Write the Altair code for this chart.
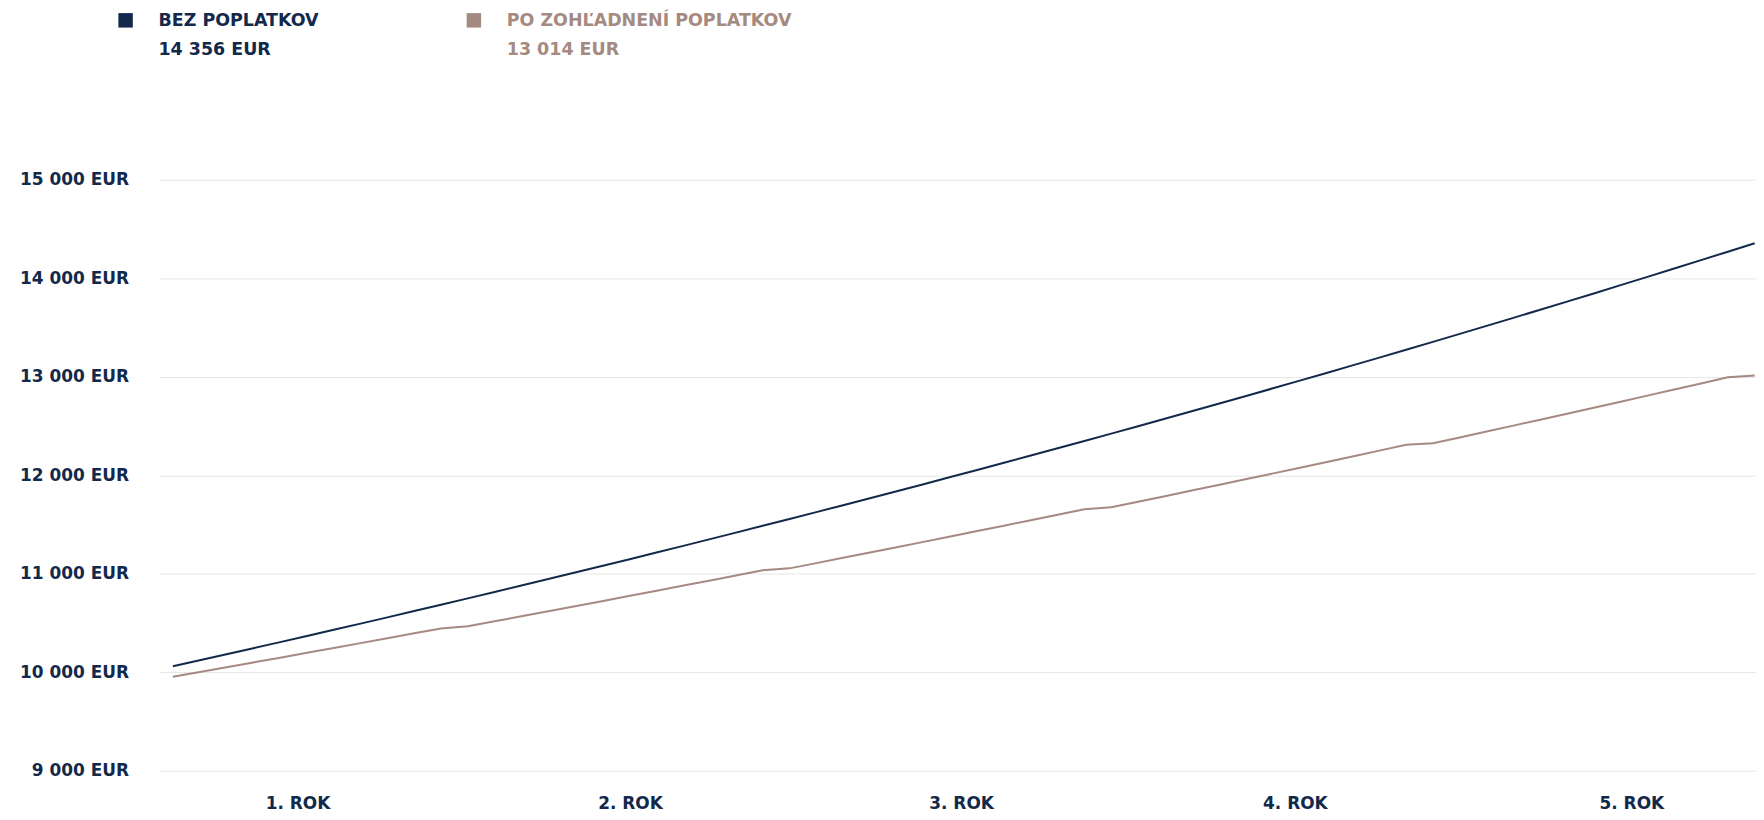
import altair as alt
import pandas as pd

# ---- data ----
months = list(range(1, 61))
bez_poplatkov = [
    10060.4, 10121.2, 10182.4, 10244.0, 10305.9, 10368.2, 10430.9, 10493.9, 10557.4, 10621.2, 10685.4, 10750.0,
    10815.0, 10880.3, 10946.1, 11012.3, 11078.8, 11145.8, 11213.2, 11280.9, 11349.2, 11417.8, 11486.8, 11556.3,
    11626.1, 11696.3, 11767.1, 11838.2, 11909.7, 11981.7, 12054.2, 12127.0, 12200.4, 12274.1, 12348.3, 12423.0,
    12498.1, 12573.5, 12649.6, 12726.1, 12803.0, 12880.3, 12958.3, 13036.5, 13115.4, 13194.7, 13274.4, 13354.7,
    13435.5, 13516.5, 13598.3, 13680.6, 13763.2, 13846.3, 13930.2, 14014.2, 14099.1, 14184.3, 14270.0, 14356.3,
]
po_poplatkoch = [
    9955.0, 10003.0, 10051.2, 10099.7, 10148.4, 10197.3, 10246.4, 10295.8, 10345.4, 10395.3, 10445.4, 10467.0,
    10517.5, 10568.2, 10619.1, 10670.3, 10721.7, 10773.4, 10825.3, 10877.5, 10929.9, 10982.6, 11035.5, 11055.0,
    11108.3, 11161.8, 11215.6, 11269.7, 11324.0, 11378.6, 11433.4, 11488.5, 11543.9, 11599.5, 11655.4, 11675.0,
    11731.3, 11787.8, 11844.6, 11901.7, 11959.1, 12016.7, 12074.6, 12132.8, 12191.3, 12250.1, 12309.2, 12325.0,
    12384.4, 12444.1, 12504.1, 12564.4, 12624.9, 12685.8, 12746.9, 12808.4, 12870.1, 12932.1, 12994.5, 13014.0,
]
series_names = ["BEZ POPLATKOV", "PO ZOHĽADNENÍ POPLATKOV"]
series_colors = ["#13294b", "#a48a80"]
y_ticks = [9000, 10000, 11000, 12000, 13000, 14000, 15000]
x_tick_labels = ["1. ROK", "2. ROK", "3. ROK", "4. ROK", "5. ROK"]
x_tick_months = [5.65, 18.05, 30.4, 42.85, 55.4]

FONT = "DejaVu Sans"
NAVY = series_colors[0]

df = pd.DataFrame({
    "mesiac": months + months,
    "hodnota": bez_poplatkov + po_poplatkoch,
    "seria": [series_names[0]] * len(months) + [series_names[1]] * len(months),
})


def eur(v):
    return f"{v:,.0f}".replace(",", " ") + " EUR"


labels_js = "[" + ",".join(f"'{t}'" for t in x_tick_labels) + "]"
pos_js = "[" + ",".join(str(p) for p in x_tick_months) + "]"

x_enc = alt.X(
    "mesiac:Q",
    scale=alt.Scale(domain=[0.5, 60.05], nice=False, zero=False),
    axis=alt.Axis(
        values=x_tick_months,
        labelExpr=f"{labels_js}[indexof({pos_js}, datum.value)]",
        grid=False, domain=False, ticks=False, tickSize=0,
        labelPadding=25, labelFont=FONT, labelFontSize=17, labelFontWeight="bold",
        labelColor=NAVY, title=None, labelOverlap=False, labelFlush=False,
    ),
)
y_enc = alt.Y(
    "hodnota:Q",
    scale=alt.Scale(domain=[9000, 15000], nice=False, zero=False),
    axis=alt.Axis(
        values=y_ticks,
        labelExpr="replace(format(datum.value, ',.0f'), ',', ' ') + ' EUR'",
        grid=True, gridColor="#e6e6e6", gridWidth=1,
        domain=False, ticks=False, tickSize=0,
        labelPadding=31, labelFont=FONT, labelFontSize=17, labelFontWeight="bold",
        labelColor=NAVY, title=None, labelOverlap=False,
    ),
)

lines = alt.Chart(df).mark_line(strokeWidth=2).encode(
    x=x_enc,
    y=y_enc,
    color=alt.Color("seria:N", scale=alt.Scale(domain=series_names, range=series_colors), legend=None),
    order="mesiac:Q",
)

# ---- custom legend at the top-left ----
finals = [bez_poplatkov[-1], po_poplatkoch[-1]]
legend_layers = []
legend_x = [-34, 315.5]
for i, name in enumerate(series_names):
    col = series_colors[i]
    sq = alt.Chart(pd.DataFrame({"t": [name]})).mark_point(
        shape="square", filled=True, size=210, color=col, opacity=1
    ).encode(x=alt.value(legend_x[i]), y=alt.value(-160))
    name_txt = alt.Chart(pd.DataFrame({"t": [name]})).mark_text(
        align="left", baseline="middle", font=FONT, fontSize=17.5, fontWeight="bold", color=col
    ).encode(x=alt.value(legend_x[i] + 33), y=alt.value(-159), text="t:N")
    val_txt = alt.Chart(pd.DataFrame({"t": [eur(finals[i])]})).mark_text(
        align="left", baseline="middle", font=FONT, fontSize=17.5, fontWeight="bold", color=col
    ).encode(x=alt.value(legend_x[i] + 33), y=alt.value(-130), text="t:N")
    legend_layers += [sq, name_txt, val_txt]

chart = (
    alt.layer(lines, *legend_layers)
    .properties(
        width=1602,
        height=593,
        autosize=alt.AutoSizeParams(type="none"),
        padding={"left": 152, "top": 171, "right": 0, "bottom": 40},
        background="white",
    )
    .configure_view(strokeWidth=0, stroke="transparent")
)

chart.save("out.html", embed_options={"renderer": "svg", "actions": False})
